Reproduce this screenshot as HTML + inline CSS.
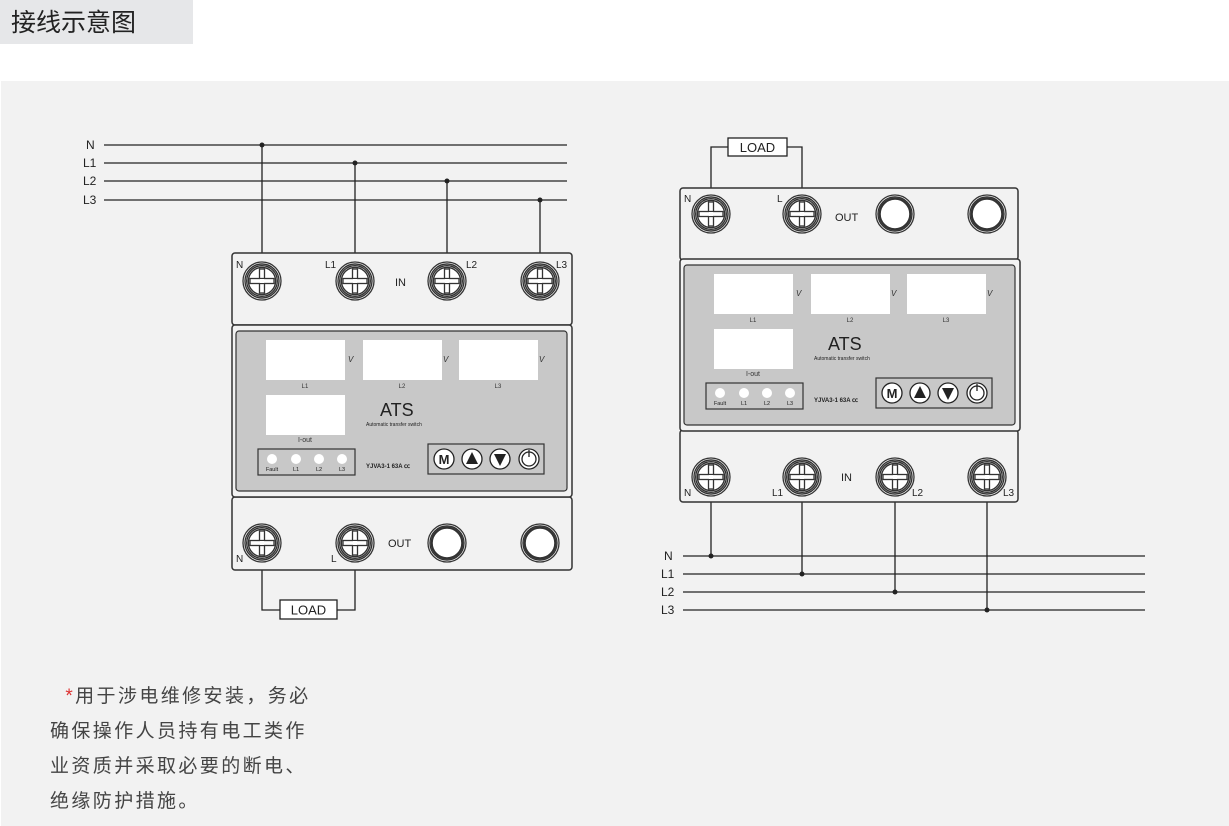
<!DOCTYPE html>
<html><head><meta charset="utf-8"><style>
html,body{margin:0;padding:0;background:#fff;width:1229px;height:826px;overflow:hidden}
.hd{position:absolute;left:0;top:0;width:193px;height:44px;background:#e6e7e9;font:25px "Liberation Sans","Noto Sans CJK SC",sans-serif;color:#222;line-height:46px;padding-left:11px;box-sizing:border-box}
.pn{position:absolute;left:1px;top:81px;width:1228px;height:745px;background:#f2f2f2}
svg{position:absolute;left:0;top:0}
.nt{position:absolute;left:50px;top:679px;font:19px "Liberation Sans","Noto Sans CJK SC",sans-serif;color:#444;line-height:35px;letter-spacing:2.4px}
</style></head><body>
<div class="hd">接线示意图</div>
<div class="pn"></div>
<svg width="1229" height="826" viewBox="0 0 1229 826" font-family="Liberation Sans, sans-serif">
<defs>
<g id="t"><circle r="19" fill="#fff" stroke="#333" stroke-width="1.3"/><circle r="17" fill="none" stroke="#333" stroke-width="1.4"/><circle r="15.3" fill="none" stroke="#333" stroke-width="1.4"/><circle r="13.6" fill="#fff" stroke="#333" stroke-width="1.4"/><rect x="-2.5" y="-12" width="5" height="24" fill="#fff" stroke="#333" stroke-width="1.3"/><rect x="-12" y="-2.5" width="24" height="5" fill="#fff" stroke="#333" stroke-width="1.3"/><rect x="-2" y="-2" width="4" height="4" fill="#fff"/></g>
<g id="r"><circle r="19" fill="#fff" stroke="#333" stroke-width="1.3"/><circle r="17" fill="none" stroke="#333" stroke-width="1.4"/><circle r="15.3" fill="#fff" stroke="#333" stroke-width="2.2"/></g>
<g id="mid">
<rect x="232" y="325" width="340" height="172" rx="3" fill="#f2f2f2" stroke="#333" stroke-width="1.5"/>
<rect x="236" y="331" width="331" height="160" rx="3" fill="#c8c8c8" stroke="#333" stroke-width="1.2"/>
<rect x="266" y="340" width="79" height="40" fill="#fff"/><rect x="363" y="340" width="79" height="40" fill="#fff"/><rect x="459" y="340" width="79" height="40" fill="#fff"/>
<g font-size="8" font-style="italic" fill="#333"><text x="348" y="362">V</text><text x="443" y="362">V</text><text x="539" y="362">V</text></g>
<g font-size="6" fill="#333" text-anchor="middle"><text x="305" y="388">L1</text><text x="402" y="388">L2</text><text x="498" y="388">L3</text></g>
<rect x="266" y="395" width="79" height="40" fill="#fff"/>
<text x="305" y="442" font-size="7" text-anchor="middle" fill="#333">I-out</text>
<text x="380" y="416" font-size="18" fill="#222">ATS</text>
<text x="366" y="426" font-size="5" fill="#222">Automatic transfer switch</text>
<rect x="258" y="449" width="97" height="26" fill="none" stroke="#333" stroke-width="1.2"/>
<g fill="#fff"><circle cx="272" cy="459" r="5"/><circle cx="296" cy="459" r="5"/><circle cx="319" cy="459" r="5"/><circle cx="342" cy="459" r="5"/></g>
<g font-size="5.5" fill="#222" text-anchor="middle"><text x="272" y="471">Fault</text><text x="296" y="471">L1</text><text x="319" y="471">L2</text><text x="342" y="471">L3</text></g>
<text x="366" y="468" font-size="6" fill="#222" font-weight="bold">YJVA3-1 63A  ㏄</text>
<rect x="428" y="444" width="116" height="30" fill="none" stroke="#333" stroke-width="1.2"/>
<g fill="#fff" stroke="#222" stroke-width="1.3"><circle cx="444" cy="459" r="10"/><circle cx="472" cy="459" r="10"/><circle cx="500" cy="459" r="10"/><circle cx="529" cy="459" r="10"/><circle cx="529" cy="459" r="7"/></g>
<text x="444" y="464" font-size="13" font-weight="bold" text-anchor="middle" fill="#222">M</text>
<path d="M472 452 L478 464 L466 464Z M494 454 L506 454 L500 466Z" fill="#222"/>
<path d="M529 450 V457" stroke="#222" stroke-width="1.3"/>
</g>
</defs>
<g stroke="#222" stroke-width="1.3" fill="none">
<path d="M104 145H567M104 163H567M104 181H567M104 200H567"/>
<path d="M262 145V265M355 163V265M447 181V265M540 200V265"/>
<path d="M262 560V610H280M355 560V610H337"/>
<path d="M683 556H1145M683 574H1145M683 592H1145M683 610H1145"/>
<path d="M711 490V556M802 490V574M895 490V592M987 490V610"/>
<path d="M711 200V147H728M802 200V147H787"/>
</g>
<g fill="#222"><circle cx="262" cy="145" r="2.5"/><circle cx="355" cy="163" r="2.5"/><circle cx="447" cy="181" r="2.5"/><circle cx="540" cy="200" r="2.5"/>
<circle cx="711" cy="556" r="2.5"/><circle cx="802" cy="574" r="2.5"/><circle cx="895" cy="592" r="2.5"/><circle cx="987" cy="610" r="2.5"/></g>
<g font-size="12" fill="#222"><text x="86" y="149">N</text><text x="83" y="167">L1</text><text x="83" y="185">L2</text><text x="83" y="204">L3</text>
<text x="664" y="560">N</text><text x="661" y="578">L1</text><text x="661" y="596">L2</text><text x="661" y="614">L3</text></g>
<rect x="280" y="600" width="57" height="19" fill="#fff" stroke="#222" stroke-width="1.3"/><text x="308.5" y="614.5" font-size="13" text-anchor="middle" fill="#222">LOAD</text>
<rect x="728" y="138" width="59" height="18" fill="#fff" stroke="#222" stroke-width="1.3"/><text x="757.5" y="152" font-size="13" text-anchor="middle" fill="#222">LOAD</text>
<rect x="232" y="253" width="340" height="72" rx="3" fill="#f2f2f2" stroke="#333" stroke-width="1.5"/>
<rect x="232" y="497" width="340" height="73" rx="3" fill="#f2f2f2" stroke="#333" stroke-width="1.5"/>
<use href="#mid"/>
<use href="#t" x="262" y="281"/><use href="#t" x="355" y="281"/><use href="#t" x="447" y="281"/><use href="#t" x="540" y="281"/>
<use href="#t" x="262" y="543"/><use href="#t" x="355" y="543"/><use href="#r" x="447" y="543"/><use href="#r" x="540" y="543"/>
<g font-size="10" fill="#222"><text x="236" y="268">N</text><text x="325" y="268">L1</text><text x="466" y="268">L2</text><text x="556" y="268">L3</text>
<text x="395" y="286" font-size="11">IN</text><text x="388" y="547" font-size="11">OUT</text><text x="236" y="562">N</text><text x="331" y="562">L</text></g>
<rect x="680" y="188" width="338" height="72" rx="3" fill="#f2f2f2" stroke="#333" stroke-width="1.5"/>
<rect x="680" y="430" width="338" height="72" rx="3" fill="#f2f2f2" stroke="#333" stroke-width="1.5"/>
<use href="#mid" transform="translate(448,-66)"/>
<use href="#t" x="711" y="214"/><use href="#t" x="802" y="214"/><use href="#r" x="895" y="214"/><use href="#r" x="987" y="214"/>
<use href="#t" x="711" y="477"/><use href="#t" x="802" y="477"/><use href="#t" x="895" y="477"/><use href="#t" x="987" y="477"/>
<g font-size="10" fill="#222"><text x="684" y="202">N</text><text x="777" y="202">L</text><text x="835" y="221" font-size="11">OUT</text>
<text x="841" y="481" font-size="11">IN</text><text x="684" y="496">N</text><text x="772" y="496">L1</text><text x="912" y="496">L2</text><text x="1003" y="496">L3</text></g>
</svg>
<div class="nt">&nbsp;&nbsp;<span style="color:#d33">*</span>用于涉电维修安装，务必<br>确保操作人员持有电工类作<br>业资质并采取必要的断电、<br>绝缘防护措施。</div>
</body></html>
